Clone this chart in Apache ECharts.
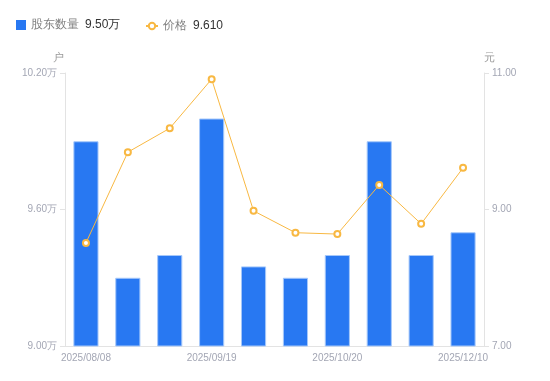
<!DOCTYPE html>
<html><head><meta charset="utf-8">
<script src="https://cdn.jsdelivr.net/npm/echarts@6/dist/echarts.min.js"></script>
<style>html,body{margin:0;padding:0;background:#fff}#c{width:550px;height:381px}</style>
</head><body><div id="c"></div>
<script>
var categories = ['2025/08/08','2025/08/20','2025/08/29','2025/09/19','2025/09/30','2025/10/10','2025/10/20','2025/10/31','2025/11/20','2025/12/10'];
var holders = [9.90, 9.30, 9.40, 10.00, 9.35, 9.30, 9.40, 9.90, 9.40, 9.50];
var prices = [8.51, 9.84, 10.19, 10.91, 8.98, 8.66, 8.64, 9.36, 8.79, 9.61];
var leftTicks = {min: 9.0, max: 10.2, interval: 0.6};
var rightTicks = {min: 7, max: 11, interval: 2};
var labelColor = '#a3a6b4';
var legendText = {fontSize: 12, color: '#808080', fontFamily: 'sans-serif',
  rich: {v: {fontSize: 12, color: '#333', padding: [0, 0, 0, 6]}}};
var chart = echarts.init(document.getElementById('c'), null, {renderer: 'canvas'});
chart.setOption({
  animation: false,
  legend: [
    {
      left: 11, top: 14, itemWidth: 10, itemHeight: 10, itemGap: 0,
      textStyle: legendText,
      formatter: function (n) { return n + '{v|' + holders[holders.length - 1].toFixed(2) + '万}'; },
      data: [{name: '股东数量', icon: 'rect', itemStyle: {color: '#2878f2', borderWidth: 0}}]
    },
    {
      left: 140, top: 15, itemWidth: 12, itemHeight: 8, itemGap: 0,
      textStyle: legendText,
      formatter: function (n) { return n + '{v|' + prices[prices.length - 1].toFixed(3) + '}'; },
      data: [{name: '价格'}]
    }
  ],
  grid: {left: 65, right: 66, top: 73, bottom: 35},
  xAxis: {
    type: 'category', data: categories,
    axisLine: {lineStyle: {color: '#e3e3e3'}},
    axisTick: {show: false},
    axisLabel: {interval: 2, color: labelColor, fontSize: 10, margin: 7}
  },
  yAxis: [
    {type: 'value', name: '户', min: leftTicks.min, max: leftTicks.max, interval: leftTicks.interval,
     nameTextStyle: {color: '#999', fontSize: 11, padding: [0, 14, 0, 0]}, nameGap: 10,
     axisLine: {show: true, lineStyle: {color: '#e3e3e3'}},
     axisTick: {show: true, length: 5, lineStyle: {color: '#e3e3e3'}},
     splitLine: {show: false},
     axisLabel: {color: labelColor, fontSize: 10, margin: 8, formatter: function (v) { return v.toFixed(2) + '万'; }}},
    {type: 'value', name: '元', min: rightTicks.min, max: rightTicks.max, interval: rightTicks.interval,
     nameTextStyle: {color: '#999', fontSize: 11, padding: [0, 0, 0, 10]}, nameGap: 10,
     axisLine: {show: true, lineStyle: {color: '#e3e3e3'}},
     axisTick: {show: true, length: 5, lineStyle: {color: '#e3e3e3'}},
     splitLine: {show: false},
     axisLabel: {color: labelColor, fontSize: 10, margin: 8, formatter: function (v) { return v.toFixed(2); }}}
  ],
  series: [
    {name: '股东数量', type: 'bar', data: holders, yAxisIndex: 0, barWidth: '60%',
     itemStyle: {color: '#2878f2', borderColor: '#a6c8fa', borderWidth: 1}},
    {name: '价格', type: 'line', data: prices, yAxisIndex: 1,
     symbol: 'circle', symbolSize: 6, showSymbol: true,
     lineStyle: {color: '#f8b842', width: 1},
     itemStyle: {color: '#fff', borderColor: '#f8b842', borderWidth: 2}}
  ]
});
</script></body></html>
